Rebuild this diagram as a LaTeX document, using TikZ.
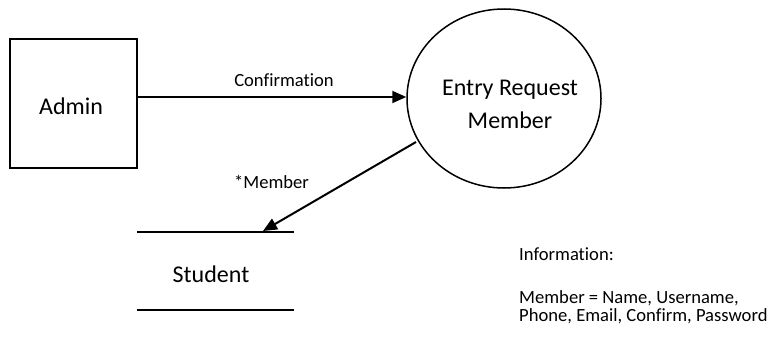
\documentclass[tikz,border=0pt]{standalone}
\usepackage{fontspec}
\setmainfont[Ligatures=NoCommon]{Carlito}
\usetikzlibrary{arrows.meta,shapes.geometric}
\begin{document}
\begin{tikzpicture}[x=1pt,y=-1pt,
  big/.style={font=\fontsize{24}{28}\selectfont},
  small/.style={font=\fontsize{18.6}{20}\selectfont},
  entity/.style={draw,line width=1.5pt,minimum width=127pt,minimum height=129pt,inner sep=0pt},
  process/.style={draw,ellipse,line width=1.5pt,minimum width=194pt,minimum height=179pt,inner sep=0pt},
  flow/.style={line width=2pt,-{Triangle[length=14pt,width=12pt]}},
  storeline/.style={line width=1.5pt}]
\useasboundingbox (0,0) rectangle (770,340);

% external entity
\node[entity] (admin) at (73.5,103.5) {};
\node[big,anchor=base] (admintext) at (71,114) {Admin};

% process
\node[process] (entry) at (504,98.5) {};
\node[big,anchor=base] (entryline1) at (510,95) {Entry Request};
\node[big,anchor=base] (entryline2) at (510,128) {Member};

% data store
\coordinate (storeTL) at (137,232);
\coordinate (storeTR) at (294,232);
\coordinate (storeBL) at (137,310);
\coordinate (storeBR) at (294,310);
\draw[storeline] (storeTL) -- (storeTR);
\draw[storeline] (storeBL) -- (storeBR);
\node[big,anchor=base] (student) at (211,282) {Student};

% data flows
\draw[flow] (admin.east |- 0,97) -- (entry.west |- 0,97);
\node[small,anchor=base] (confirm) at (284,86) {Confirmation};

\coordinate (memberstart) at (416,142);
\coordinate (memberend) at (263,231);
\draw[flow] (memberstart) -- (memberend);
\node[small,anchor=base] (memberlabel) at (271.5,188) {*Member};

% data dictionary
\node[small,anchor=base west,inner sep=0pt] (info1) at (519,260) {Information:};
\node[small,anchor=base west,inner sep=0pt] (info2) at (519,303) {Member = Name, Username,};
\node[small,anchor=base west,inner sep=0pt] (info3) at (519,321) {Phone, Email, Confirm, Password};
\end{tikzpicture}
\end{document}
